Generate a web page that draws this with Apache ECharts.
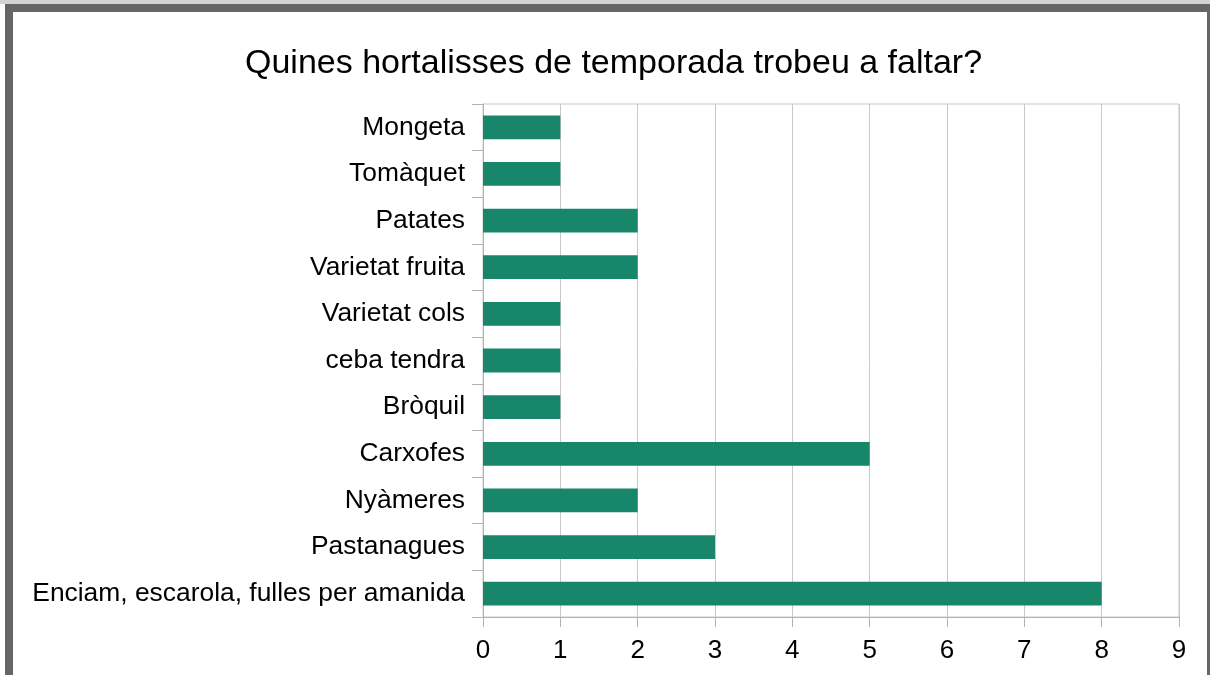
<!DOCTYPE html>
<html>
<head>
<meta charset="utf-8">
<script src="https://cdn.jsdelivr.net/npm/echarts@6/dist/echarts.min.js"></script>
<style>
  html, body { margin: 0; padding: 0; background: #fff; }
  #topstrip { position: absolute; left: 0; top: 0; width: 1210px; height: 4px; background: #d4d4d4; }
  #frame { position: absolute; left: 5px; top: 4px; width: 1210px; height: 700px; border: 8px solid #666; box-sizing: border-box; pointer-events: none; }
  #chart { position: absolute; left: 0; top: 0; width: 1210px; height: 675px; }
</style>
</head>
<body>
<div id="topstrip"></div>
<div id="chart"></div>
<div id="frame"></div>
<script>
// categories listed bottom to top (ECharts draws the first one at the bottom)
const categories = [
  'Enciam, escarola, fulles per amanida',
  'Pastanagues',
  'Nyàmeres',
  'Carxofes',
  'Bròquil',
  'ceba tendra',
  'Varietat cols',
  'Varietat fruita',
  'Patates',
  'Tomàquet',
  'Mongeta'
];
const values = [8, 3, 2, 5, 1, 1, 1, 2, 2, 1, 1];
const titleText = 'Quines hortalisses de temporada trobeu a faltar?';

const myChart = echarts.init(document.getElementById('chart'));
myChart.setOption({
  animation: false,
  textStyle: { fontFamily: 'Liberation Sans' },
  title: {
    text: titleText,
    left: 240,
    top: 42,
    textStyle: { fontSize: 34, fontWeight: 'normal', color: '#000', fontFamily: 'Liberation Sans' }
  },
  grid: { left: 483, right: 31, top: 104, bottom: 58, containLabel: false,
    show: true, borderColor: '#c8c8c8', borderWidth: 1 },
  xAxis: {
    type: 'value',
    min: 0,
    max: 9,
    interval: 1,
    axisLine: { show: true, lineStyle: { color: '#b3b3b3' } },
    axisTick: { show: true, length: 10, lineStyle: { color: '#b3b3b3' } },
    splitLine: { show: true, lineStyle: { color: '#c8c8c8' } },
    axisLabel: { color: '#000', fontSize: 26, margin: 21 }
  },
  yAxis: {
    type: 'category',
    data: categories,
    axisLine: { show: true, lineStyle: { color: '#b3b3b3' } },
    axisTick: { show: true, length: 11, lineStyle: { color: '#b3b3b3' } },
    axisLabel: { color: '#000', fontSize: 26.4, margin: 18, padding: [10, 0, 0, 0] }
  },
  series: [{
    type: 'bar',
    data: values,
    barWidth: '51%',
    itemStyle: { color: '#17866a' }
  }]
});
</script>
</body>
</html>
